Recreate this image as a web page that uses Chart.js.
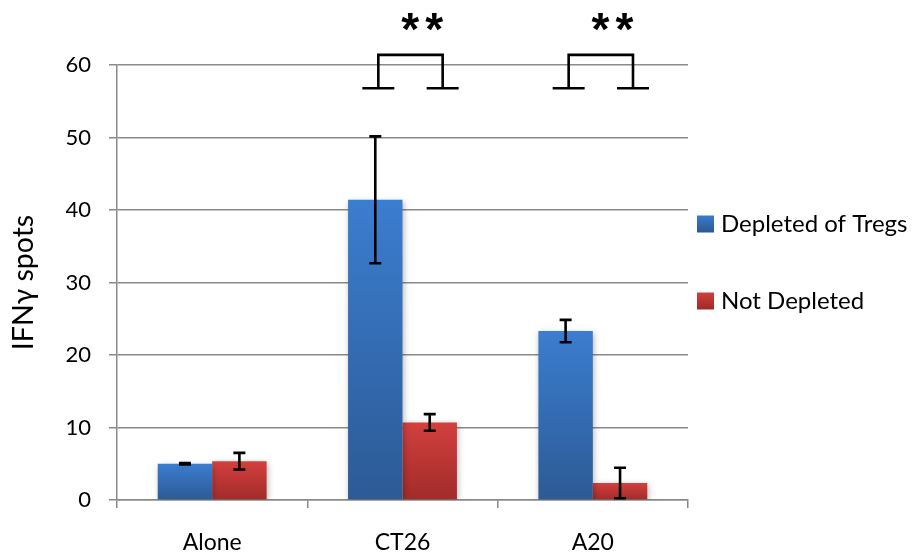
<!DOCTYPE html>
<html><head><meta charset="utf-8">
<script src="https://cdn.jsdelivr.net/npm/chart.js@4"></script>
<style>html,body{margin:0;padding:0;background:#fff}</style>
</head><body>
<canvas id="c" width="916" height="557"></canvas>
<script>
// ---- data ----
const categories = ['Alone', 'CT26', 'A20'];
const seriesNames = ['Depleted of Tregs', 'Not Depleted'];
const depleted = [5.0, 41.4, 23.3];
const notDepleted = [5.35, 10.7, 2.35];
const depletedErr = [0.1, 8.75, 1.55];
const notDepletedErr = [1.15, 1.15, 2.1];
const yTicks = [0, 10, 20, 30, 40, 50, 60];
const sigLabels = ['', '*', '*'];
const sigCount = [0, 2, 2];
const bracketTop = [null, 61.4, 61.4];
const bracketFoot = [null, 56.8, 56.8];
const sigLabelLevel = [null, 65.8, 65.8];

// ---- styles ----
const BLUE = ['#3b7dcf', '#2c5a95'];
const RED = ['#d2403d', '#a12b2a'];
const GRID = '#8a8a8a';
Chart.defaults.font.family = 'Lato';
Chart.defaults.color = '#000';

function barGradient(ctx, cols) {
  const chart = ctx.chart;
  if (!chart.chartArea || ctx.type !== 'data') return cols[0];
  const ys = chart.scales.y;
  const y0 = ys.getPixelForValue(ctx.raw), y1 = ys.getPixelForValue(0);
  const g = chart.ctx.createLinearGradient(0, y0, 0, y1);
  g.addColorStop(0, cols[0]); g.addColorStop(1, cols[1]);
  return g;
}

const errs = [depletedErr, notDepletedErr];
const cols = [BLUE, RED];

const shadowPlugin = {
  id: 'shadow',
  beforeDatasetDraw(chart) {
    const c = chart.ctx; c.save();
    c.shadowColor = 'rgba(0,0,0,0.28)'; c.shadowBlur = 6; c.shadowOffsetX = 1; c.shadowOffsetY = 2;
  },
  afterDatasetDraw(chart) { chart.ctx.restore(); }
};

const errorBarPlugin = {
  id: 'errorBars',
  afterDatasetsDraw(chart) {
    const c = chart.ctx, ys = chart.scales.y;
    c.save(); c.strokeStyle = '#000'; c.lineWidth = 2.6; c.lineCap = 'butt';
    chart.data.datasets.forEach((ds, i) => {
      const meta = chart.getDatasetMeta(i);
      meta.data.forEach((el, j) => {
        const v = ds.data[j], e = errs[i][j];
        const yh = ys.getPixelForValue(v + e), yl = ys.getPixelForValue(v - e);
        const x = el.x, w = 6;
        c.beginPath();
        c.moveTo(x, yh); c.lineTo(x, yl);
        c.moveTo(x - w, yh); c.lineTo(x + w, yh);
        c.moveTo(x - w, yl); c.lineTo(x + w, yl);
        c.stroke();
      });
    });
    c.restore();
  }
};

const sigPlugin = {
  id: 'sig',
  afterDraw(chart) {
    const c = chart.ctx, xs = chart.scales.x, ys = chart.scales.y;
    const cw = xs.width / categories.length;
    c.save(); c.strokeStyle = '#000'; c.lineWidth = 2.6; c.lineJoin = 'miter';
    categories.forEach((cat, j) => {
      if (bracketTop[j] == null) return;
      const cx = xs.getPixelForValue(j);
      const xl = cx - 0.127 * cw, xr = cx + 0.211 * cw, fw = 0.084 * cw;
      const yt = ys.getPixelForValue(bracketTop[j]), yf = ys.getPixelForValue(bracketFoot[j]);
      c.beginPath();
      c.moveTo(xl, yf); c.lineTo(xl, yt); c.lineTo(xr, yt); c.lineTo(xr, yf);
      c.moveTo(xl - fw, yf); c.lineTo(xl + fw, yf);
      c.moveTo(xr - fw, yf); c.lineTo(xr + fw, yf);
      c.stroke();
      c.fillStyle = '#000'; c.font = 'bold 46px "Liberation Sans"';
      c.textAlign = 'center'; c.textBaseline = 'middle';
      const ly = ys.getPixelForValue(sigLabelLevel[j]) + 9;
      const offs = [0.04, 0.166];
      for (let k = 0; k < sigCount[j]; k++) c.fillText(sigLabels[j], cx + offs[k] * cw, ly);
    });
    c.restore();
  }
};

const legendPlugin = {
  id: 'customLegend',
  afterDraw(chart) {
    const c = chart.ctx;
    const ys = [223, 300];
    c.save();
    chart.data.datasets.forEach((ds, i) => {
      const y = ys[i], s = 17, x = 697;
      const g = c.createLinearGradient(0, y - s / 2, 0, y + s / 2);
      g.addColorStop(0, cols[i][0]); g.addColorStop(1, cols[i][1]);
      c.fillStyle = g; c.fillRect(x, y - s / 2 + 1, s, s);
      c.fillStyle = '#000'; c.font = '24px Lato'; c.textAlign = 'left'; c.textBaseline = 'middle';
      c.fillText(ds.label, 721, y + 1);
    });
    c.restore();
  }
};

new Chart(document.getElementById('c'), {
  type: 'bar',
  data: {
    labels: categories,
    datasets: [
      { label: seriesNames[0], data: depleted, backgroundColor: ctx => barGradient(ctx, BLUE) },
      { label: seriesNames[1], data: notDepleted, backgroundColor: ctx => barGradient(ctx, RED) }
    ]
  },
  options: {
    responsive: false,
    animation: false,
    layout: { padding: { top: 65, right: 228, bottom: 0, left: 0 } },
    plugins: { legend: { display: false }, tooltip: { enabled: false } },
    datasets: { bar: { categoryPercentage: 0.572, barPercentage: 1, borderWidth: 0 } },
    scales: {
      x: {
        afterFit: s => { s.height = 57; },
        grid: { drawOnChartArea: false, drawTicks: true, tickLength: 8, color: GRID, lineWidth: 1.5, offset: true },
        border: { color: GRID, width: 1.5 },
        ticks: { font: { size: 23 }, padding: 21, color: '#000' }
      },
      y: {
        min: 0, max: 60,
        afterFit: s => { s.width = 117; },
        afterBuildTicks: s => { s.ticks = yTicks.map(v => ({ value: v })); },
        grid: { color: GRID, lineWidth: 1.5, tickLength: 8 },
        border: { color: GRID, width: 1.5 },
        ticks: { font: { size: 22 }, padding: 18, color: '#000' },
        title: { display: true, text: 'IFNγ spots', font: { size: 28.5 }, padding: { top: 7, bottom: 0 }, color: '#000' }
      }
    }
  },
  plugins: [shadowPlugin, errorBarPlugin, sigPlugin, legendPlugin]
});
</script>
</body></html>
